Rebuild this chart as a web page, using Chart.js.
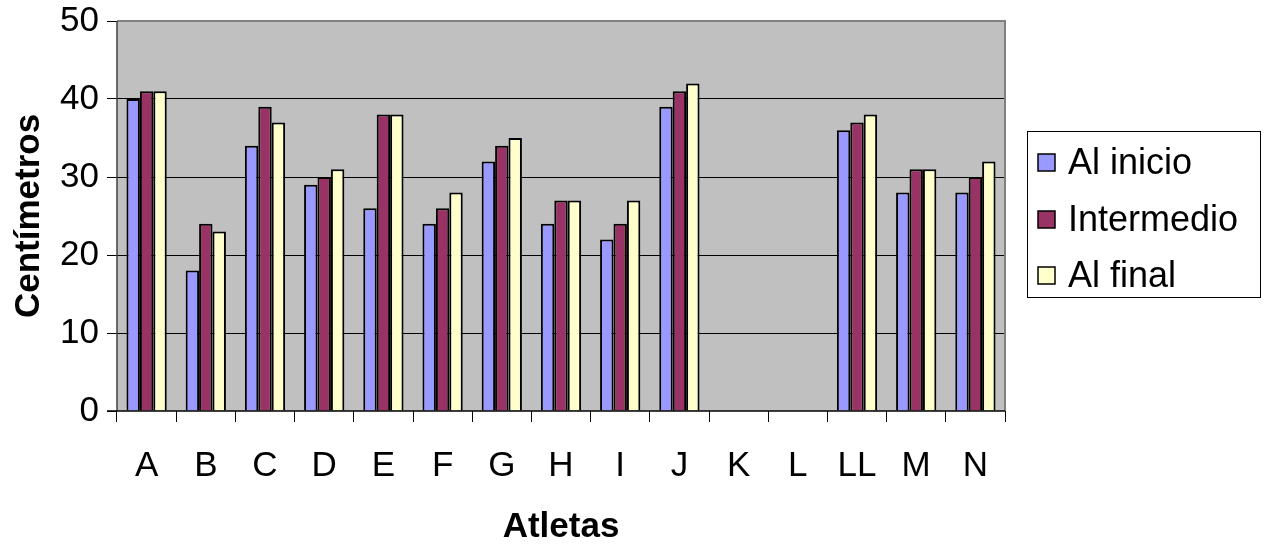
<!DOCTYPE html>
<html>
<head>
<meta charset="utf-8">
<script src="https://cdn.jsdelivr.net/npm/chart.js@4"></script>
<style>
  html, body { margin: 0; padding: 0; background: #ffffff; }
  #wrap { width: 1266px; height: 549px; }
</style>
</head>
<body>
<div id="wrap"><canvas id="c" width="1266" height="549"></canvas></div>
<script>
// Atletas y medidas en centímetros (K y L sin datos)
const atletas = ['A', 'B', 'C', 'D', 'E', 'F', 'G', 'H', 'I', 'J', 'K', 'L', 'LL', 'M', 'N'];
const alInicio   = [40, 18, 34, 29, 26, 24, 32, 24, 22, 39, null, null, 36, 28, 28];
const intermedio = [41, 24, 39, 30, 38, 26, 34, 27, 24, 41, null, null, 37, 31, 30];
const alFinal    = [41, 23, 37, 31, 38, 28, 35, 27, 27, 42, null, null, 38, 31, 32];
const yTicks = [0, 10, 20, 30, 40, 50];

const FONT = "'Liberation Sans', Arial, sans-serif";

// Fondo gris y marco del área de trazado
const plotFrame = {
  id: 'plotFrame',
  beforeDraw(chart) {
    const { ctx, chartArea: a } = chart;
    ctx.save();
    ctx.fillStyle = '#c0c0c0';
    ctx.fillRect(a.left, a.top, a.right - a.left, a.bottom - a.top);
    ctx.restore();
  },
  afterDatasetsDraw(chart) {
    const { ctx, chartArea: a } = chart;
    ctx.save();
    ctx.strokeStyle = '#808080';
    ctx.lineWidth = 2;
    ctx.beginPath();
    ctx.moveTo(a.left, a.top);
    ctx.lineTo(a.right, a.top);
    ctx.lineTo(a.right, a.bottom);
    ctx.stroke();
    ctx.strokeStyle = '#404040';
    ctx.lineWidth = 1.5;
    ctx.beginPath();
    ctx.moveTo(a.left, a.top);
    ctx.lineTo(a.left, a.bottom);
    ctx.stroke();
    ctx.strokeStyle = '#000000';
    ctx.lineWidth = 1.5;
    ctx.beginPath();
    ctx.moveTo(a.left - 10, a.bottom);
    ctx.lineTo(a.right, a.bottom);
    ctx.stroke();
    ctx.restore();
  }
};

// Leyenda con recuadro a la derecha
const boxLegend = {
  id: 'boxLegend',
  afterDraw(chart) {
    const { ctx } = chart;
    const x0 = 1027, y0 = 131, w = 233, h = 166;
    ctx.save();
    ctx.fillStyle = '#ffffff';
    ctx.fillRect(x0, y0, w, h);
    ctx.strokeStyle = '#000000';
    ctx.lineWidth = 1;
    ctx.strokeRect(x0 + 0.5, y0 + 0.5, w, h);
    const rows = [163, 220, 276];
    ctx.font = '36px ' + FONT;
    ctx.textBaseline = 'middle';
    ctx.textAlign = 'left';
    chart.data.datasets.forEach((ds, i) => {
      const cy = rows[i];
      ctx.fillStyle = ds.backgroundColor;
      ctx.fillRect(1038, cy - 9, 17, 17);
      ctx.strokeStyle = '#000000';
      ctx.lineWidth = 1.5;
      ctx.strokeRect(1038, cy - 9, 17, 17);
      ctx.fillStyle = '#000000';
      ctx.fillText(ds.label, 1068, cy + 1);
    });
    ctx.restore();
  }
};

const barStyle = { borderColor: '#000000', borderWidth: 2, borderSkipped: 'bottom' };

new Chart(document.getElementById('c'), {
  type: 'bar',
  data: {
    labels: atletas,
    datasets: [
      { label: 'Al inicio', data: alInicio, backgroundColor: '#9999ff', ...barStyle },
      { label: 'Intermedio', data: intermedio, backgroundColor: '#993366', ...barStyle },
      { label: 'Al final', data: alFinal, backgroundColor: '#ffffcc', ...barStyle }
    ]
  },
  options: {
    responsive: false,
    animation: false,
    devicePixelRatio: 1,
    layout: { padding: { top: 21, right: 261, bottom: 0, left: 0 } },
    datasets: { bar: { categoryPercentage: 0.68, barPercentage: 1.0 } },
    plugins: {
      legend: { display: false },
      tooltip: { enabled: false }
    },
    scales: {
      x: {
        grid: { offset: true, drawOnChartArea: false, drawTicks: true, tickLength: 11, tickColor: '#000000', lineWidth: 1 },
        border: { display: false },
        ticks: { color: '#000000', font: { family: FONT, size: 35 }, padding: 23, maxRotation: 0, autoSkip: false },
        title: { display: true, text: 'Atletas', color: '#000000', font: { family: FONT, size: 35, weight: 'bold', lineHeight: 1.0 }, padding: { top: 0, bottom: 4 } },
        afterFit(scale) { scale.height = 138; scale.paddingLeft = 0; scale.paddingRight = 0; }
      },
      y: {
        min: 0, max: 50,
        afterBuildTicks(scale) { scale.ticks = yTicks.map(v => ({ value: v })); },
        grid: {
          color: ctx => (ctx.tick && (ctx.tick.value === 0 || ctx.tick.value === 50)) ? 'rgba(0,0,0,0)' : '#000000',
          tickColor: '#000000',
          lineWidth: 1,
          tickLength: 10
        },
        border: { display: false },
        ticks: { color: '#000000', font: { family: FONT, size: 35 }, padding: 8 },
        title: { display: true, text: 'Centímetros', color: '#000000', font: { family: FONT, size: 35, weight: 'bold' }, padding: { top: 8, bottom: 0 } },
        afterFit(scale) { scale.width = 117; scale.paddingTop = 0; scale.paddingBottom = 0; }
      }
    }
  },
  plugins: [plotFrame, boxLegend]
});
</script>
</body>
</html>
